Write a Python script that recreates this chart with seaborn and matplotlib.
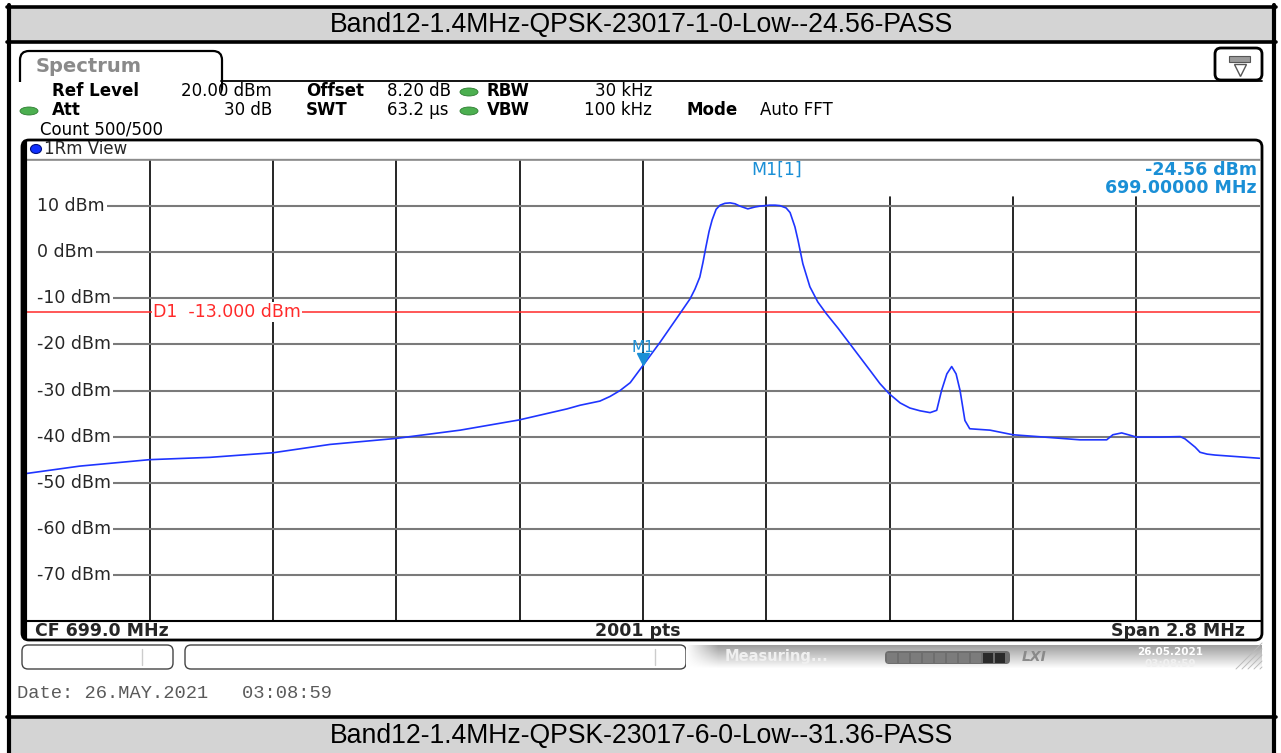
import matplotlib
matplotlib.use("Agg")
import matplotlib.pyplot as plt
import matplotlib.transforms as mtransforms
from matplotlib.lines import Line2D
from matplotlib.patches import FancyBboxPatch, Rectangle, Ellipse
import numpy as np
import pandas as pd
import seaborn as sns

# trace (MHz, dBm)
freq_mhz = [697.600, 697.721, 697.880, 698.017, 698.160, 698.289, 698.439, 698.585,
            698.718, 698.827, 698.857, 698.902, 698.925, 698.948, 698.971, 699.000,
            699.039, 699.084, 699.107, 699.118, 699.129, 699.136, 699.143, 699.150,
            699.157, 699.166, 699.175, 699.186, 699.198, 699.209, 699.220, 699.238,
            699.254, 699.266, 699.288, 699.300, 699.311, 699.325, 699.334, 699.345,
            699.352, 699.363, 699.379, 699.397, 699.416, 699.443, 699.470, 699.516,
            699.538, 699.559, 699.584, 699.606, 699.629, 699.652, 699.667, 699.678,
            699.690, 699.701, 699.711, 699.720, 699.731, 699.742, 699.788, 699.840,
            699.924, 699.992, 700.053, 700.067, 700.087, 700.106, 700.120, 700.174,
            700.220, 700.231, 700.254, 700.265, 700.281, 700.299, 700.400]
level_dbm = [-48.0, -46.4, -45.0, -44.5, -43.5, -41.7, -40.4, -38.6,
             -36.4, -34.0, -33.2, -32.3, -31.3, -30.0, -28.3, -24.56,
             -19.5, -13.3, -10.1, -8.0, -5.4, -2.3, 1.2, 4.5,
             7.0, 9.3, 10.2, 10.6, 10.7, 10.5, 10.0, 9.4,
             9.8, 10.0, 10.2, 10.2, 10.1, 9.6, 8.6, 5.5,
             2.6, -2.5, -7.5, -10.8, -13.3, -16.5, -19.9, -25.7,
             -28.5, -30.7, -32.7, -33.8, -34.4, -34.8, -34.3, -30.0,
             -26.4, -24.8, -26.4, -30.0, -36.5, -38.3, -38.6, -39.6,
             -40.2, -40.7, -40.7, -39.6, -39.2, -39.7, -40.1, -40.1,
             -40.0, -40.5, -42.3, -43.4, -43.8, -44.0, -44.7]

y_levels = [10, 0, -10, -20, -30, -40, -50, -60, -70]
y_labels = [f"{v} dBm" for v in y_levels]
center_mhz = 699.0
span_mhz = 2.8
ref_level = 20
limit_dbm = -13.0
marker_mhz = 699.0
marker_dbm = -24.56

title_top = "Band12-1.4MHz-QPSK-23017-1-0-Low--24.56-PASS"
title_bottom = "Band12-1.4MHz-QPSK-23017-6-0-Low--31.36-PASS"

sns.set_style("white")
plt.rcParams["font.family"] = ["DejaVu Sans"]

W, H = 1281, 753
fig = plt.figure(figsize=(W / 100, H / 100), dpi=100)

# background layer in pixel coordinates
bg = fig.add_axes([0, 0, 1, 1], zorder=0)
bg.set_xlim(0, W)
bg.set_ylim(H, 0)
bg.axis("off")

# title bars and outer frame
for y0, y1, txt in [(7, 41, title_top), (718, 753, title_bottom)]:
    bg.add_patch(Rectangle((8, y0), 1267, y1 - y0, fc="#d4d4d4", ec="none"))
    bg.text(642, (y0 + y1) / 2 + 1, txt, ha="center", va="center",
            fontsize=19.2, family="Liberation Sans", color="black")
for yy in [6.5, 42, 717]:
    bg.plot([7, 1276], [yy, yy], color="black", lw=2.6)
for xx in [8.5, 1273.5]:
    bg.plot([xx, xx], [5, 753], color="black", lw=3)

# Spectrum tab
bg.add_patch(FancyBboxPatch((20, 51), 202, 45, boxstyle="round,pad=0,rounding_size=9",
                            fc="white", ec="black", lw=1.6))
bg.add_patch(Rectangle((17, 82), 204, 20, fc="white", ec="none", zorder=3))
bg.plot([221, 1262], [81, 81], color="black", lw=1.3, zorder=4)
bg.text(36, 66, "Spectrum", fontsize=14, color="#8a8a8a", fontweight="bold", va="center")

# small icon top right
bg.add_patch(FancyBboxPatch((1215, 48), 47, 32, boxstyle="round,pad=0,rounding_size=6",
                            fc="white", ec="black", lw=2, zorder=5))
bg.add_patch(Rectangle((1229, 56), 21, 6, fc="#9a9a9a", ec="#555", lw=0.8, zorder=6))
bg.plot([1240], [70], marker="v", ms=8, mfc="white", mec="#555", mew=1, zorder=6)

# settings lines
def info(x, y, s, bold=False, ha="left"):
    bg.text(x, y, s, fontsize=12, fontweight="bold" if bold else "normal",
            ha=ha, va="center", color="black")

info(52, 91, "Ref Level", True)
info(272, 91, "20.00 dBm", ha="right")
info(306, 91, "Offset", True)
info(387, 91, "8.20 dB")
info(487, 91, "RBW", True)
info(652, 91, "30 kHz", ha="right")
info(52, 110, "Att", True)
info(272, 110, "30 dB", ha="right")
info(306, 110, "SWT", True)
info(387, 110, "63.2 µs")
info(487, 110, "VBW", True)
info(652, 110, "100 kHz", ha="right")
info(687, 110, "Mode", True)
info(760, 110, "Auto FFT")
info(40, 129, "Count 500/500")
for ex, ey in [(469, 92), (469, 111), (29, 111)]:
    bg.add_patch(Ellipse((ex, ey), 18, 8, fc="#4caf50", ec="#2e7d32", lw=0.6))

# view window box
bg.add_patch(FancyBboxPatch((22, 140), 1240, 500, boxstyle="round,pad=0,rounding_size=7",
                            fc="white", ec="black", lw=2))
fig.add_artist(Line2D([24.5, 24.5], [142, 638], color="black", lw=3,
                      transform=bg.transData, zorder=5))
bg.plot([26, 1260], [158.5, 158.5], color="#9a9a9a", lw=1)
bg.add_patch(Ellipse((36, 149), 11, 9, fc="#1030ff", ec="#001080", lw=0.8))
bg.text(44, 149, "1Rm View", fontsize=12, va="center")

# footer of the view window
bg.text(35, 631, "CF 699.0 MHz", fontsize=12.5, fontweight="bold", va="center")
bg.text(638, 631, "2001 pts", fontsize=12.5, fontweight="bold", va="center", ha="center")
bg.text(1245, 631, "Span 2.8 MHz", fontsize=12.5, fontweight="bold", va="center", ha="right")

# status bar
bg.add_patch(FancyBboxPatch((22, 645), 151, 24, boxstyle="round,pad=0,rounding_size=6",
                            fc="white", ec="#444", lw=1))
bg.plot([142, 142], [649, 665], color="#ccc", lw=1)
bg.add_patch(FancyBboxPatch((185, 645), 501, 24, boxstyle="round,pad=0,rounding_size=6",
                            fc="white", ec="#444", lw=1))
bg.plot([655, 655], [649, 665], color="#ccc", lw=1)
vert = np.linspace(0.62, 1.0, 24)[:, None]
horiz = np.clip(np.linspace(0, 18, 576), 0, 1)[None, :]
grad = 1 - (1 - vert) * horiz
bg.imshow(grad, cmap="gray", vmin=0, vmax=1, extent=(686, 1262, 669, 645),
          aspect="auto", zorder=1)
bg.set_xlim(0, W)
bg.set_ylim(H, 0)
for k in range(5):
    bg.plot([1236 + k * 6, 1262], [669, 669 - (26 - k * 6)], color="#bbbbbb", lw=0.7, zorder=2)
bg.text(725, 657, "Measuring...", fontsize=10.5, fontweight="bold", color="#f0f0f0",
        va="center", zorder=3)
bg.add_patch(FancyBboxPatch((885, 651), 125, 13, boxstyle="round,pad=0,rounding_size=4",
                            fc="#6e6e6e", ec="none", zorder=3))
for i in range(10):
    c = "#2a2a2a" if i >= 8 else "#7c7c7c"
    bg.add_patch(Rectangle((887 + i * 12, 652.5), 10, 10, fc=c, ec="none", zorder=4))
bg.text(1022, 657, "LXI", fontsize=10, fontweight="bold", style="italic", color="#8a8a8a",
        va="center", zorder=3)
bg.text(1170, 652, "26.05.2021", fontsize=7.5, fontweight="bold", color="white",
        ha="center", va="center", zorder=3)
bg.text(1170, 664, "03:08:59", fontsize=7.5, fontweight="bold", color="#f0f0f0",
        ha="center", va="center", zorder=3)

bg.text(17, 693, "Date: 26.MAY.2021   03:08:59", fontsize=13.5, family="Liberation Mono",
        color="#5a5a5a", va="center")

# spectrum plot
x0, x1, y_top, y_bot = 26.5, 1259.5, 160, 621
ax = fig.add_axes([x0 / W, 1 - y_bot / H, (x1 - x0) / W, (y_bot - y_top) / H], zorder=2)
f_lo, f_hi = center_mhz - span_mhz / 2, center_mhz + span_mhz / 2
ax.set_xlim(f_lo, f_hi)
ax.set_ylim(ref_level - 100, ref_level)
ax.set_xticks([])
ax.set_yticks([])
for side in ["left", "right"]:
    ax.spines[side].set_visible(False)
ax.spines["top"].set_color("#8a8a8a")
ax.spines["top"].set_linewidth(1.2)
ax.spines["bottom"].set_color("black")
ax.spines["bottom"].set_linewidth(1.5)

info_top = (y_bot - 197) / (y_bot - y_top)
for i in range(1, 10):
    fv = f_lo + i * span_mhz / 10
    ax.axvline(fv, ymax=1 if fv <= center_mhz + 1e-6 else info_top,
               color="black", lw=1.2, zorder=1)
for v, lab in zip(y_levels, y_labels):
    ax.axhline(v, color="#7a7a7a", lw=1.5, zorder=1)
    ax.text(0.0, v, "  " + lab, transform=ax.get_yaxis_transform(), fontsize=12.5,
            va="center", ha="left", zorder=2,
            bbox=dict(fc="white", ec="none", pad=1.0))

ax.axhline(limit_dbm, color="#ff2a2a", lw=1.1, zorder=2)
ax.text(0.1026, limit_dbm, "D1  -13.000 dBm", transform=ax.get_yaxis_transform(),
        fontsize=12.5, color="#ff2a2a", va="center", ha="left", zorder=3,
        bbox=dict(fc="white", ec="none", pad=0.5))

df = pd.DataFrame({"freq": freq_mhz, "level": level_dbm})
sns.lineplot(data=df, x="freq", y="level", color="#1f35ff", lw=1.2, ax=ax,
             zorder=4, estimator=None, sort=False)
ax.set_xlabel("")
ax.set_ylabel("")

mk_col = "#1a8fd6"
tri = mtransforms.offset_copy(ax.transData, fig=fig, y=4.5, units="points")
ax.plot([marker_mhz], [marker_dbm], marker="v", ms=9, color=mk_col,
        transform=tri, zorder=5)
lbl = mtransforms.offset_copy(ax.transData, fig=fig, y=13, units="points")
ax.text(marker_mhz, marker_dbm, "M1", color=mk_col, fontsize=11, ha="center",
        va="center", transform=lbl, zorder=5)

ax.text(0.6087, 0.978, "M1[1]", transform=ax.transAxes, color=mk_col, fontsize=12.5,
        ha="center", va="center")
ax.text(0.998, 0.978, "-24.56 dBm", transform=ax.transAxes, color=mk_col, fontsize=12.5,
        fontweight="bold", ha="right", va="center")
ax.text(0.998, 0.939, "699.00000 MHz", transform=ax.transAxes, color=mk_col,
        fontsize=12.5, fontweight="bold", ha="right", va="center")

fig.savefig("out.png", dpi=100)
